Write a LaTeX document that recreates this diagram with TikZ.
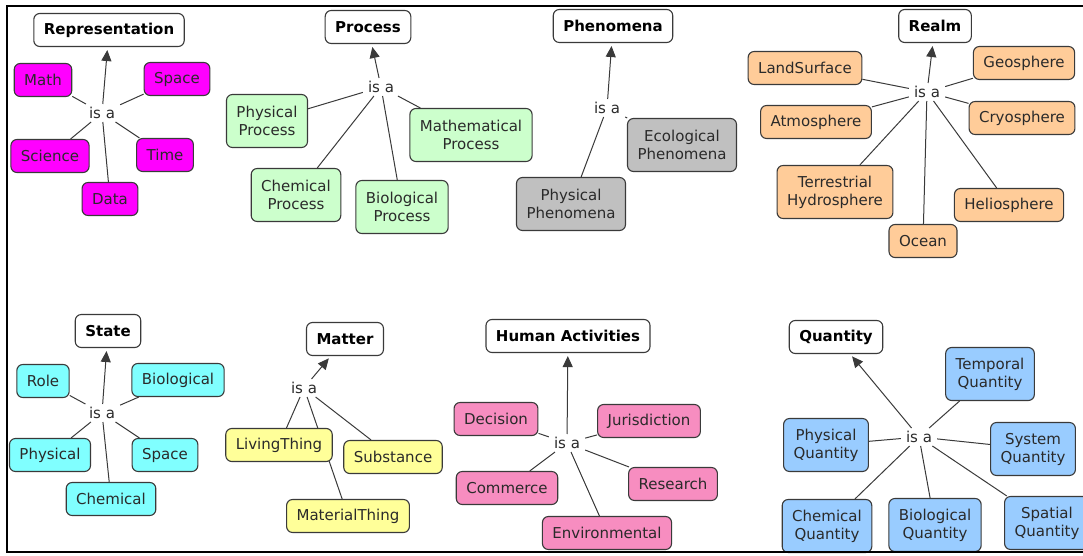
\documentclass[tikz,border=0pt]{standalone}
\usepackage{fontspec}
\setmainfont{DejaVu Sans}
\usetikzlibrary{arrows.meta,backgrounds}

\definecolor{linegray}{HTML}{3A3A3A}
\definecolor{textgray}{HTML}{2A2A2A}
\definecolor{repfill}{HTML}{FF00FF}
\definecolor{procfill}{HTML}{CCFFCC}
\definecolor{phenfill}{HTML}{C0C0C0}
\definecolor{realmfill}{HTML}{FFCC99}
\definecolor{statefill}{HTML}{80FFFF}
\definecolor{matterfill}{HTML}{FFFF99}
\definecolor{humanfill}{HTML}{F78DC0}
\definecolor{quantfill}{HTML}{99CCFF}

\begin{document}
\begin{tikzpicture}[x=1pt,y=-1pt,
		concept/.style={draw=linegray, fill=#1, line width=1.1pt, rounded corners=6pt,
			text=textgray, align=center, inner xsep=10pt, inner ysep=8pt,
			minimum height=33pt, font=\fontsize{15}{18}\selectfont},
		tworow/.style={minimum height=53pt},
		root/.style={concept=white, text=black, font=\fontsize{15}{18}\selectfont\bfseries},
		isa/.style={text=textgray, inner xsep=5pt, inner ysep=3pt, font=\fontsize{15}{18}\selectfont},
		link/.style={draw=linegray, line width=1pt},
		up/.style={link, -{Triangle[length=11pt,width=10pt]}, shorten >=3pt}]
	\useasboundingbox (0,0) rectangle (1083,556);
	% representation
	\node[root] (rep) at (109,30) {Representation};
	\node[isa] (repIsa) at (102,113) {is a};
	\node[concept=repfill] (math) at (43,80) {Math};
	\node[concept=repfill] (space) at (177,79) {Space};
	\node[concept=repfill] (science) at (50,156) {Science};
	\node[concept=repfill] (time) at (165,155) {Time};
	\node[concept=repfill] (data) at (110,199) {Data};
	% process
	\node[root] (proc) at (368,27) {Process};
	\node[isa] (procIsa) at (381,87) {is a};
	\node[concept=procfill, tworow] (physProc) at (267,121) {Physical\\Process};
	\node[concept=procfill, tworow] (mathProc) at (471,135) {Mathematical\\Process};
	\node[concept=procfill, tworow] (chemProc) at (296,195) {Chemical\\Process};
	\node[concept=procfill, tworow] (bioProc) at (402,207) {Biological\\Process};
	% phenomena
	\node[root] (phen) at (613,26) {Phenomena};
	\node[isa] (phenIsa) at (607,108) {is a};
	\node[concept=phenfill, tworow] (ecoPhen) at (682,145) {Ecological\\Phenomena};
	\node[concept=phenfill, tworow] (physPhen) at (571,204) {Physical\\Phenomena};
	% realm
	\node[root] (realm) at (935,26) {Realm};
	\node[isa] (realmIsa) at (927,92) {is a};
	\node[concept=realmfill] (land) at (805,68) {LandSurface};
	\node[concept=realmfill] (geo) at (1024,63) {Geosphere};
	\node[concept=realmfill] (atmo) at (816,122) {Atmosphere};
	\node[concept=realmfill] (cryo) at (1022,118) {Cryosphere};
	\node[concept=realmfill, tworow] (hydro) at (835,192) {Terrestrial\\Hydrosphere};
	\node[concept=realmfill] (helio) at (1009,205) {Heliosphere};
	\node[concept=realmfill] (ocean) at (923,241) {Ocean};
	% state
	\node[root] (state) at (108,331) {State};
	\node[isa] (stateIsa) at (102,413) {is a};
	\node[concept=statefill] (role) at (43,381) {Role};
	\node[concept=statefill] (bioState) at (178,380) {Biological};
	\node[concept=statefill] (physState) at (50,455) {Physical};
	\node[concept=statefill] (spaceState) at (165,455) {Space};
	\node[concept=statefill] (chemState) at (111,499) {Chemical};
	% matter
	\node[root] (matter) at (345,339) {Matter};
	\node[isa] (matterIsa) at (304,388) {is a};
	\node[concept=matterfill] (living) at (279,445) {LivingThing};
	\node[concept=matterfill] (subst) at (393,457) {Substance};
	\node[concept=matterfill] (material) at (348,516) {MaterialThing};
	% human activities
	\node[root] (human) at (568,336) {Human Activities};
	\node[isa] (humanIsa) at (567,443) {is a};
	\node[concept=humanfill] (decision) at (496,419) {Decision};
	\node[concept=humanfill] (juris) at (649,421) {Jurisdiction};
	\node[concept=humanfill] (commerce) at (507,488) {Commerce};
	\node[concept=humanfill] (research) at (673,484) {Research};
	\node[concept=humanfill] (environ) at (607,533) {Environmental};
	% quantity
	\node[root] (quant) at (836,337) {Quantity};
	\node[isa] (quantIsa) at (919,437) {is a};
	\node[concept=quantfill, tworow] (tempQ) at (990,374) {Temporal\\Quantity};
	\node[concept=quantfill, tworow] (physQ) at (826,445) {Physical\\Quantity};
	\node[concept=quantfill, tworow] (sysQ) at (1033,449) {System\\Quantity};
	\node[concept=quantfill, tworow] (chemQ) at (827,526) {Chemical\\Quantity};
	\node[concept=quantfill, tworow] (bioQ) at (935,525) {Biological\\Quantity};
	\node[concept=quantfill, tworow] (spatQ) at (1047,523) {Spatial\\Quantity};
	% links
	\begin{scope}[on background layer]
		\draw[up] (repIsa) -- (rep);
		\draw[link] (repIsa) -- (math) (repIsa) -- (space) (repIsa) -- (science)
			(repIsa) -- (time) (repIsa) -- (data);
		\draw[up] (procIsa) -- (proc);
		\draw[link] (procIsa) -- (physProc) (procIsa) -- (mathProc)
			(procIsa) -- (chemProc) (procIsa) -- (bioProc);
		\draw[up] (phenIsa) -- (phen);
		\draw[link] (phenIsa) -- (ecoPhen) (phenIsa) -- (physPhen);
		\draw[up] (realmIsa) -- (realm);
		\draw[link] (realmIsa) -- (land) (realmIsa) -- (geo) (realmIsa) -- (atmo)
			(realmIsa) -- (cryo) (realmIsa) -- (hydro) (realmIsa) -- (helio)
			(realmIsa) -- (ocean);
		\draw[up] (stateIsa) -- (state);
		\draw[link] (stateIsa) -- (role) (stateIsa) -- (bioState) (stateIsa) -- (physState)
			(stateIsa) -- (spaceState) (stateIsa) -- (chemState);
		\draw[up] (matterIsa) -- (matter);
		\draw[link] (matterIsa) -- (living) (matterIsa) -- (subst) (matterIsa) -- (material);
		\draw[up] (humanIsa) -- (human);
		\draw[link] (humanIsa) -- (decision) (humanIsa) -- (juris) (humanIsa) -- (commerce)
			(humanIsa) -- (research) (humanIsa) -- (environ);
		\draw[up] (quantIsa) -- (quant);
		\draw[link] (quantIsa) -- (tempQ) (quantIsa) -- (physQ) (quantIsa) -- (sysQ)
			(quantIsa) -- (chemQ) (quantIsa) -- (bioQ) (quantIsa) -- (spatQ);
	\end{scope}
	% frame
	\draw[line width=1.5pt] (1083,6) -- (7,6) -- (7,552) -- (1083,552);
\end{tikzpicture}
\end{document}
